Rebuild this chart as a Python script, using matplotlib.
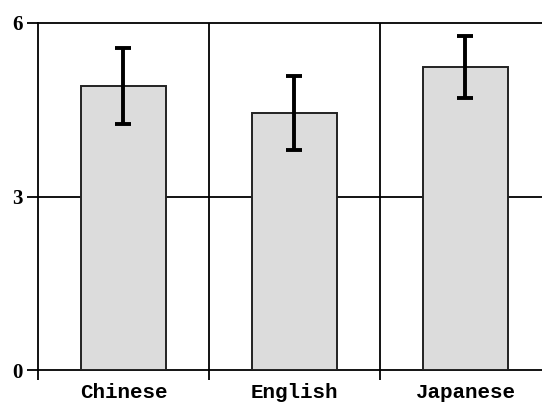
import matplotlib
matplotlib.use("Agg")
import matplotlib.pyplot as plt
import numpy as np

categories = ["Chinese", "English", "Japanese"]
means = [4.91, 4.45, 5.24]
errors = [0.65, 0.64, 0.54]
yticks = [0, 3, 6]

fig = plt.figure(figsize=(5.42, 4.04), dpi=100)
ax = fig.add_axes([38/542, 1-370/404, 513/542, (370-23)/404])

x = np.arange(len(categories)) + 0.5
ax.bar(x, means, width=0.5, color="#dcdcdc", edgecolor="#222222", linewidth=1.4, zorder=3)
ax.errorbar(x, means, yerr=errors, fmt="none", ecolor="black", elinewidth=2.8,
            capsize=5.8, capthick=2.8, zorder=4)

ax.set_xlim(0, 3)
ax.set_ylim(0, 6)
ax.set_yticks(yticks)
ax.set_yticklabels([str(v) for v in yticks])
ax.set_xticks(x)
ax.set_xticklabels(categories)
ax.set_xticks([0, 1, 2], minor=True)

for y in yticks[1:]:
    ax.axhline(y, color="black", linewidth=1.3, zorder=1, clip_on=False)
for xv in [1, 2]:
    ax.axvline(xv, color="black", linewidth=1.3, zorder=1)

for s in ["top", "right"]:
    ax.spines[s].set_visible(False)
ax.spines["left"].set_linewidth(1.3)
ax.spines["bottom"].set_linewidth(1.3)

ax.tick_params(axis="x", which="major", length=0, pad=9)
ax.tick_params(axis="x", which="minor", length=7.5, width=1.3, color="black")
ax.tick_params(axis="y", which="major", length=8, width=1.3, pad=3)

for lab in ax.get_xticklabels():
    lab.set_fontfamily("Liberation Mono")
    lab.set_fontweight("bold")
    lab.set_fontsize(15)
for lab in ax.get_yticklabels():
    lab.set_fontfamily("Liberation Serif")
    lab.set_fontweight("bold")
    lab.set_fontsize(15)

fig.savefig("out.png", dpi=100)
